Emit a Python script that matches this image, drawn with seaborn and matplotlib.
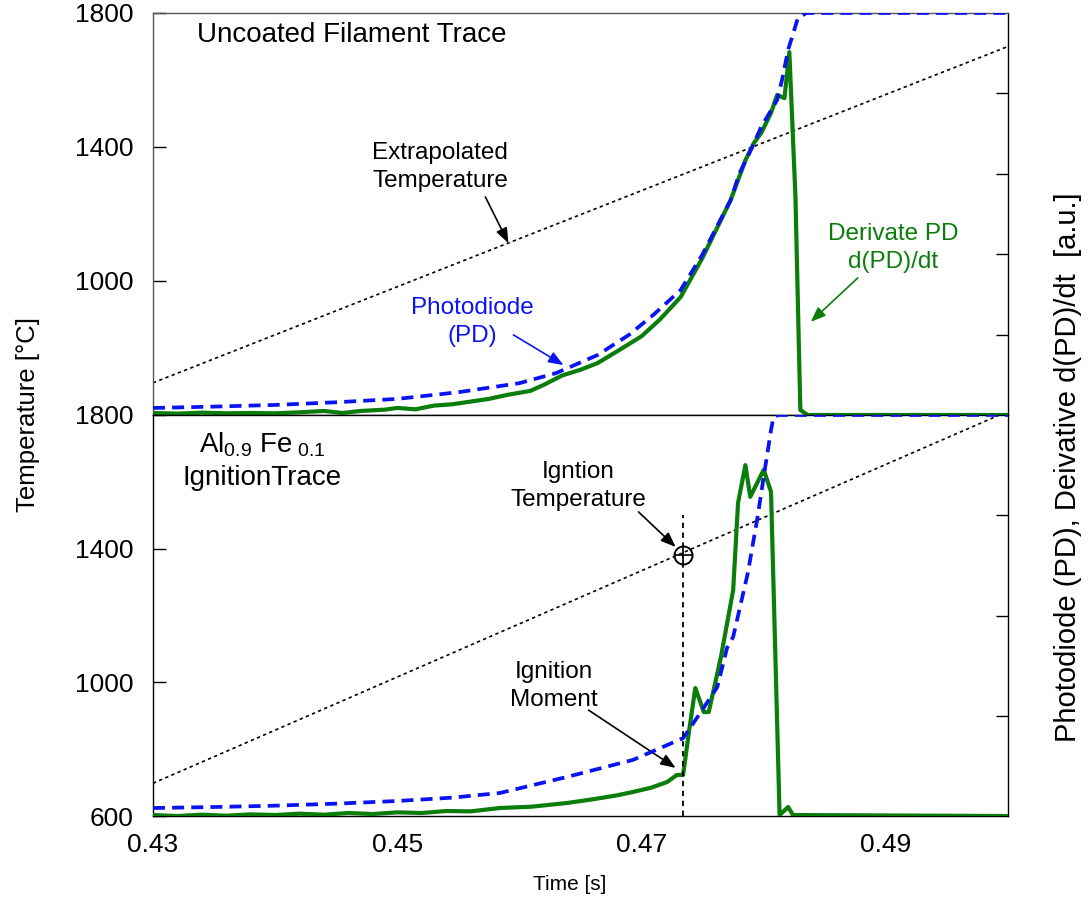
import numpy as np
import pandas as pd
import matplotlib
matplotlib.use("Agg")
import matplotlib.pyplot as plt
import seaborn as sns

sns.set_style("white")
plt.rcParams["font.family"] = ["Liberation Sans", "DejaVu Sans"]
plt.rcParams["text.color"] = "black"
plt.rcParams["axes.labelcolor"] = "black"
plt.rcParams["mathtext.fontset"] = "custom"
plt.rcParams["mathtext.rm"] = "Liberation Sans"
plt.rcParams["mathtext.it"] = "Liberation Sans:italic"

# ---- Uncoated filament trace (top panel) ----
top_pd_t = [0.430, 0.435, 0.440, 0.445, 0.450, 0.455, 0.460, 0.463, 0.4664, 0.469,
            0.471, 0.4732, 0.475, 0.4773, 0.478, 0.479, 0.4798, 0.4811, 0.4815,
            0.482, 0.4828, 0.4835, 0.500]
top_pd_T = [621, 625, 630, 638, 648, 668, 695, 725, 779, 840,
            900, 973, 1080, 1242, 1320, 1395, 1460, 1540, 1600,
            1690, 1785, 1800, 1800]

top_d_t = [0.430, 0.432, 0.434, 0.436, 0.438, 0.440, 0.442, 0.444, 0.4455, 0.447,
           0.449, 0.450, 0.4515, 0.453, 0.4545, 0.456, 0.4575, 0.459, 0.4609, 0.462,
           0.4635, 0.465, 0.4664, 0.468, 0.470, 0.4715, 0.4732, 0.475, 0.4773, 0.4785,
           0.4792, 0.4798, 0.4806, 0.4811, 0.4817, 0.4821, 0.4826, 0.4830, 0.4836, 0.500]
top_d_T = [606, 604, 607, 605, 606, 605, 608, 612, 606, 612,
           616, 621, 617, 628, 632, 640, 648, 660, 672, 690,
           718, 735, 755, 790, 835, 885, 952, 1070, 1242, 1360,
           1412, 1442, 1502, 1555, 1546, 1683, 1250, 615, 600, 600]

top_ext_t = [0.430, 0.500]
top_ext_T = [696, 1700]

# ---- Al0.9Fe0.1 ignition trace (bottom panel) ----
bot_pd_t = [0.430, 0.435, 0.440, 0.445, 0.450, 0.4545, 0.4584, 0.4639, 0.4693, 0.4734,
            0.4748, 0.4762, 0.477, 0.4775, 0.4787, 0.4795, 0.4800, 0.4806, 0.4808,
            0.4812, 0.500]
bot_pd_T = [624, 627, 631, 637, 645, 655, 669, 717, 768, 833,
            908, 986, 1103, 1136, 1327, 1495, 1615, 1755, 1794,
            1800, 1800]

bot_d_t = [0.430, 0.432, 0.434, 0.436, 0.438, 0.440, 0.442, 0.444, 0.446, 0.448,
           0.450, 0.452, 0.454, 0.456, 0.4584, 0.461, 0.4639, 0.466, 0.468, 0.4693,
           0.4708, 0.4721, 0.4729, 0.4734, 0.4739, 0.4744, 0.4751, 0.4755, 0.4765, 0.4775,
           0.4779, 0.4785, 0.4789, 0.4800, 0.4806, 0.4813, 0.4820, 0.4824, 0.500]
bot_d_T = [603, 600, 604, 601, 605, 603, 607, 604, 609, 606,
           611, 609, 615, 614, 624, 628, 639, 650, 662, 672,
           685, 702, 723, 723, 857, 983, 911, 911, 1076, 1276,
           1537, 1650, 1555, 1636, 1570, 603, 627, 603, 600]

bot_ext_t = [0.430, 0.4993]
bot_ext_T = [698, 1800]

ign_t = 0.4734
ign_T = 1381

x_ticks = [0.43, 0.45, 0.47, 0.49]
x_ticklabels = ["0.43", "0.45", "0.47", "0.49"]
top_yticks = [1000, 1400, 1800]
bot_yticks = [600, 1000, 1400, 1800]

PD_BLUE = "#0a14f0"
D_GREEN = "#0b7d0b"

fig = plt.figure(figsize=(10.89, 9), dpi=100)
ax1 = fig.add_axes([0.1405, 0.5389, 0.7851, 0.4467])
ax2 = fig.add_axes([0.1405, 0.0933, 0.7851, 0.4456])


def draw_traces(ax, pd_t, pd_T, d_t, d_T, ext_t, ext_T):
    sns.lineplot(x=ext_t, y=ext_T, ax=ax, color="black", lw=1.2,
                 linestyle=(0, (2.0, 2.0)), sort=False, estimator=None, zorder=2)
    sns.lineplot(x=d_t, y=d_T, ax=ax, color=D_GREEN, lw=3.0,
                 sort=False, estimator=None, zorder=3)
    sns.lineplot(x=pd_t, y=pd_T, ax=ax, color=PD_BLUE, lw=2.7,
                 linestyle=(0, (3.2, 1.9)), sort=False, estimator=None, zorder=4)


draw_traces(ax1, top_pd_t, top_pd_T, top_d_t, top_d_T, top_ext_t, top_ext_T)
draw_traces(ax2, bot_pd_t, bot_pd_T, bot_d_t, bot_d_T, bot_ext_t, bot_ext_T)

for ax in (ax1, ax2):
    ax.set_xlim(0.43, 0.50)
    ax.set_ylim(600, 1800)
    ax.set_xticks(x_ticks)
    ax.tick_params(direction="in", length=9, width=1, labelsize=19,
                   pad=12, colors="black")
    ax.set_xlabel("")
    ax.set_ylabel("")
    for side in ("left", "right", "top", "bottom"):
        ax.spines[side].set_visible(True)
        ax.spines[side].set_color("black")
        ax.spines[side].set_linewidth(1.0)
    ax.tick_params(axis="y", pad=14)

ax1.set_yticks(top_yticks)
ax1.set_xticklabels([])
ax2.set_yticks(bot_yticks)
ax2.set_xticklabels(x_ticklabels)
ax1.spines["top"].set_color("#555555")
ax1.spines["left"].set_color("#555555")

# unlabeled right-hand scale for the photodiode signal
for ax, n in ((ax1, 5), (ax2, 4)):
    tw = ax.twinx()
    tw.set_ylim(0, n)
    tw.set_yticks(range(1, n))
    tw.set_yticklabels([])
    tw.tick_params(direction="in", length=9, width=1, colors="black")
    for side in ("left", "right", "top", "bottom"):
        tw.spines[side].set_visible(False)

# ignition moment and temperature
ax2.plot([ign_t, ign_t], [600, 1501], color="black", lw=1.3,
         linestyle=(0, (3, 2.5)), zorder=5)
ax2.plot([ign_t], [ign_T], marker="o", ms=13, mfc="none", mec="black", mew=1.4,
         zorder=6)
ax2.plot([ign_t], [ign_T], marker="+", ms=13, mec="black", mew=1.2, zorder=6)

# panel titles
ax1.text(0.43361, 1734, "Uncoated Filament Trace", fontsize=20, ha="left", va="center")
ax2.text(0.43893, 1710, r"Al$_{0.9}$ Fe$_{\ 0.1}$", fontsize=20, ha="center", va="center")
ax2.text(0.43893, 1612, "IgnitionTrace", fontsize=20, ha="center", va="center")

# annotations
arrow_kw = dict(arrowstyle="-|>,head_length=0.9,head_width=0.35", lw=1.2,
                shrinkA=0, shrinkB=0)
note_kw = dict(fontsize=17.5, ha="center", va="center", linespacing=1.32)

ax1.text(0.45352, 1340, "Extrapolated\nTemperature", color="black", **note_kw)
ax1.annotate("", xy=(0.4591, 1113), xytext=(0.45721, 1251),
             arrowprops=dict(color="black", **arrow_kw))

ax1.text(0.45615, 878, "Photodiode\n(PD)", color=PD_BLUE, **note_kw)
ax1.annotate("", xy=(0.46361, 749), xytext=(0.45951, 839),
             arrowprops=dict(color=PD_BLUE, **arrow_kw))

ax1.text(0.49057, 1098, "Derivate PD\nd(PD)/dt", color=D_GREEN, **note_kw)
ax1.annotate("", xy=(0.48385, 878), xytext=(0.48770, 1009),
             arrowprops=dict(color=D_GREEN, **arrow_kw))

ax2.text(0.46484, 1588, "Igntion\nTemperature", color="black", **note_kw)
ax2.annotate("", xy=(0.47279, 1405), xytext=(0.46975, 1510),
             arrowprops=dict(color="black", **arrow_kw))

ax2.text(0.46279, 989, "Ignition\nMoment", color="black", **note_kw)
ax2.annotate("", xy=(0.47279, 744), xytext=(0.46566, 917),
             arrowprops=dict(color="black", **arrow_kw))

# axis titles
fig.text(28 / 1089, 1 - 415 / 900, "Temperature [\u00b0C]", rotation=90,
         ha="center", va="center", fontsize=18.5, color="black")
fig.text(1068 / 1089, 1 - 467 / 900, "Photodiode (PD), Deivative d(PD)/dt  [a.u.]",
         rotation=90, ha="center", va="center", fontsize=21, color="black")
fig.text(570 / 1089, 1 - 885 / 900, "Time [s]", ha="center", va="center",
         fontsize=15, color="black")

fig.savefig("out.png", dpi=100)
